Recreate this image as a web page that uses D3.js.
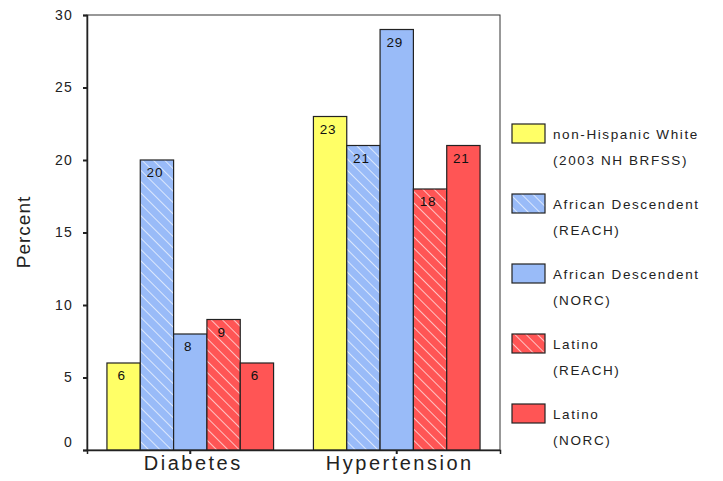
<!DOCTYPE html>
<html><head><meta charset="utf-8">
<script src="https://cdn.jsdelivr.net/npm/d3@7/dist/d3.min.js"></script>
<style>body{margin:0;background:#fff}svg{display:block}text{font-family:Arial,"Liberation Sans",sans-serif}</style>
</head><body>
<script>
const categories = ["Diabetes", "Hypertension"];
const seriesNames = ["non-Hispanic White|(2003 NH BRFSS)", "African Descendent|(REACH)", "African Descendent|(NORC)", "Latino|(REACH)", "Latino|(NORC)"];
const diabetes = [6, 20, 8, 9, 6];
const hypertension = [23, 21, 29, 18, 21];
const yTicks = [0, 5, 10, 15, 20, 25, 30];
const colors = ["#FFFF66", "#99BBF8", "#99BBF8", "#FF5555", "#FF5555"];
const hatched = [false, true, false, true, false];

(function () {
const W = 723, H = 481;
const FONT = "Arial,'Liberation Sans',sans-serif";
const svg = d3.select("body").append("svg").attr("width", W).attr("height", H);
const defs = svg.append("defs");
[["hatchBlue", "#99BBF8"], ["hatchRed", "#FF5555"]].forEach(([id, c]) => {
  const p = defs.append("pattern").attr("id", id).attr("patternUnits", "userSpaceOnUse")
    .attr("width", 8).attr("height", 8).attr("patternTransform", "rotate(45)");
  p.append("rect").attr("width", 8).attr("height", 8).attr("fill", c);
  p.append("line").attr("x1", 0).attr("y1", 0).attr("x2", 8).attr("y2", 0)
    .attr("stroke", "#fff").attr("stroke-width", 1.3);
});
const fillFor = i => hatched[i] ? (colors[i] === "#FF5555" ? "url(#hatchRed)" : "url(#hatchBlue)") : colors[i];

const pL = 87, pR = 500, pT = 15, pB = 450;
const y = d3.scaleLinear().domain([0, 30]).range([pB, pT]);
const x0 = d3.scaleBand().domain(categories).range([pL, pR]).paddingInner(0.193).paddingOuter(0.0966);
const x1 = d3.scaleBand().domain(d3.range(5)).range([0, x0.bandwidth()]);
const data = [diabetes, hypertension];

svg.append("rect").attr("x", pL).attr("y", pT).attr("width", pR - pL).attr("height", pB - pT)
  .attr("fill", "none").attr("stroke", "#333").attr("stroke-width", 1);

const g = svg.selectAll("g.cat").data(categories).enter().append("g")
  .attr("transform", d => `translate(${x0(d)},0)`);
g.each(function (c, ci) {
  const vals = data[ci];
  const sel = d3.select(this);
  sel.selectAll("rect").data(vals).enter().append("rect")
    .attr("x", (d, i) => x1(i)).attr("y", d => y(d))
    .attr("width", x1.bandwidth()).attr("height", d => pB - y(d))
    .attr("fill", (d, i) => fillFor(i)).attr("stroke", "#222").attr("stroke-width", 1.2);
  sel.selectAll("text").data(vals).enter().append("text")
    .attr("x", (d, i) => x1(i) + x1.bandwidth() / 2 - 2).attr("y", d => y(d) + 17)
    .attr("text-anchor", "middle").attr("font-size", 13.5).attr("letter-spacing", 0.8)
    .attr("fill", "#111").text(d => d);
});

const ya = svg.append("g").attr("transform", `translate(${pL},0)`)
  .call(d3.axisLeft(y).tickValues(yTicks).tickSize(4).tickPadding(10));
ya.select(".domain").attr("stroke", "#222").attr("stroke-width", 1.5);
ya.selectAll(".tick line").attr("stroke", "#222").attr("stroke-width", 2);
ya.selectAll(".tick text").attr("font-size", 14).attr("letter-spacing", 1.2).attr("fill", "#222")
  .attr("font-family", FONT).attr("dy", d => d === 0 ? "-0.25em" : "0.32em");

const xa = svg.append("g").attr("transform", `translate(0,${pB})`)
  .call(d3.axisBottom(x0).tickSize(4).tickPadding(4));
xa.select(".domain").attr("stroke", "#222").attr("stroke-width", 1.5);
xa.selectAll(".tick line").attr("stroke", "#222").attr("stroke-width", 2);
xa.selectAll(".tick text").attr("font-size", 20).attr("letter-spacing", 2.5).attr("fill", "#222")
  .attr("font-family", FONT).attr("dy", "0.62em").attr("dx", 3);

svg.append("text").attr("transform", "translate(30,232) rotate(-90)").attr("text-anchor", "middle")
  .attr("font-size", 19).attr("letter-spacing", 1).attr("fill", "#222").text("Percent");

const lg = svg.append("g");
seriesNames.forEach((s, i) => {
  const yy = 124 + i * 70;
  lg.append("rect").attr("x", 512).attr("y", yy).attr("width", 33).attr("height", 19)
    .attr("fill", fillFor(i)).attr("stroke", "#222").attr("stroke-width", 1.2);
  const parts = s.split("|");
  lg.append("text").attr("x", 553).attr("y", yy + 15).attr("font-size", 13.5).attr("letter-spacing", 1.6).attr("fill", "#222").text(parts[0]);
  lg.append("text").attr("x", 553).attr("y", yy + 41).attr("font-size", 13.5).attr("letter-spacing", 1.6).attr("fill", "#222").text(parts[1]);
});
})();
</script>
</body></html>
